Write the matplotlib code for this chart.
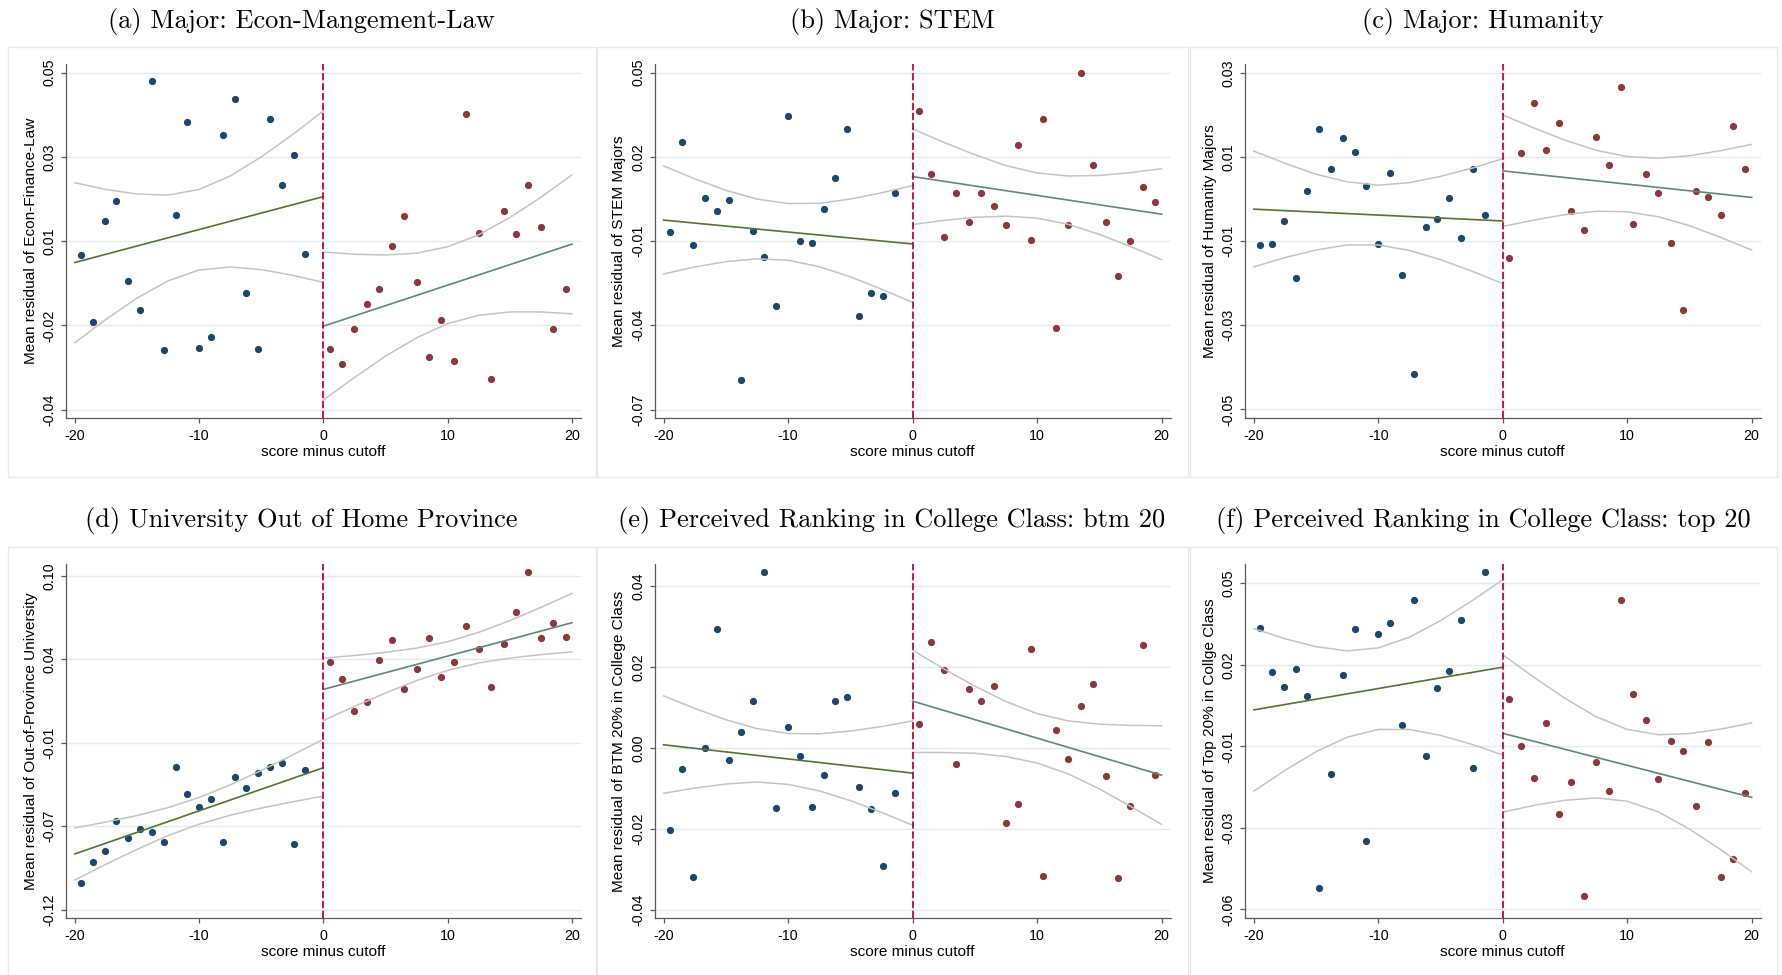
import matplotlib
matplotlib.use('Agg')
import matplotlib.pyplot as plt
from matplotlib.patches import Rectangle

plt.rcParams['font.family'] = ['Liberation Sans', 'DejaVu Sans']
plt.rcParams['axes.unicode_minus'] = False

# bin positions (score minus cutoff)
x_left = [-19.5, -18.55, -17.6, -16.65, -15.7, -14.75, -13.8, -12.85, -11.9, -10.95,
          -10.0, -9.05, -8.1, -7.15, -6.2, -5.25, -4.3, -3.35, -2.4, -1.45]
x_right = [0.5, 1.5, 2.5, 3.5, 4.5, 5.5, 6.5, 7.5, 8.5, 9.5,
           10.5, 11.5, 12.5, 13.5, 14.5, 15.5, 16.5, 17.5, 18.5, 19.5]
fit_x_left = [-20, 0]
fit_x_right = [0, 20]
ci_x_left = [-20, -17.5, -15, -12.5, -10, -7.5, -5, -2.5, 0]
ci_x_right = [0, 2.5, 5, 7.5, 10, 12.5, 15, 17.5, 20]

titles = ['(a) Major: Econ-Mangement-Law', '(b) Major: STEM', '(c) Major: Humanity',
          '(d) University Out of Home Province',
          '(e) Perceived Ranking in College Class: btm 20',
          '(f) Perceived Ranking in College Class: top 20']
ylabels = ['Mean residual of Econ-Finance-Law', 'Mean residual of STEM Majors',
           'Mean residual of Humanity Majors', 'Mean residual of Out-of-Province University',
           'Mean residual of BTM 20% in College Class', 'Mean residual of Top 20% in Collge Class']

# (a) Econ-Management-Law
blue_a = [0.0013, -0.0166, 0.0103, 0.0156, -0.0056, -0.0133, 0.0478, -0.0240, 0.0120, 0.0368,
          -0.0235, -0.0206, 0.0334, 0.0430, -0.0088, -0.0238, 0.0375, 0.0199, 0.0280, 0.0015]
red_a = [-0.0238, -0.0278, -0.0185, -0.0119, -0.0077, 0.0038, 0.0118, -0.0060, -0.0259, -0.0161,
         -0.0270, 0.0390, 0.0073, -0.0317, 0.0130, 0.0068, 0.0199, 0.0088, -0.0185, -0.0077]
fitl_a = [-0.0007, 0.0169]
fitr_a = [-0.0177, 0.0042]
cil_hi_a = [0.0206, 0.0188, 0.0176, 0.0173, 0.0188, 0.0224, 0.0275, 0.0334, 0.0398]
cil_lo_a = [-0.0221, -0.0159, -0.0102, -0.0056, -0.0027, -0.0019, -0.0026, -0.0041, -0.0060]
cir_hi_a = [0.0021, 0.0015, 0.0013, 0.0018, 0.0035, 0.0067, 0.0113, 0.0167, 0.0227]
cir_lo_a = [-0.0374, -0.0314, -0.0257, -0.0208, -0.0170, -0.0148, -0.0139, -0.0139, -0.0144]
yt_a = [0.05, 0.0275, 0.005, -0.0175, -0.04]
ytl_a = ['0.05', '0.03', '0.01', '-0.02', '-0.04']
ylim_a = (-0.0423, 0.0523)

# (b) STEM
blue_b = [-0.0067, 0.0252, -0.0112, 0.0053, 0.0006, 0.0047, -0.0593, -0.0065, -0.0155, -0.0330,
          0.0347, -0.0100, -0.0108, 0.0016, 0.0124, 0.0301, -0.0368, -0.0285, -0.0294, 0.0072]
red_b = [0.0365, 0.0140, -0.0085, 0.0073, -0.0032, 0.0070, 0.0024, -0.0041, 0.0244, -0.0096,
         0.0335, -0.0410, -0.0041, 0.0499, 0.0172, -0.0033, -0.0225, -0.0098, 0.0093, 0.0041]
fitl_b = [-0.0025, -0.0110]
fitr_b = [0.0130, -0.0004]
cil_hi_b = [0.0168, 0.0122, 0.0081, 0.0050, 0.0034, 0.0035, 0.0050, 0.0072, 0.0098]
cil_lo_b = [-0.0217, -0.0192, -0.0173, -0.0163, -0.0168, -0.0191, -0.0227, -0.0271, -0.0318]
cir_hi_b = [0.0300, 0.0252, 0.0208, 0.0169, 0.0143, 0.0132, 0.0134, 0.0144, 0.0158]
cir_lo_b = [-0.0041, -0.0026, -0.0015, -0.0011, -0.0018, -0.0040, -0.0076, -0.0119, -0.0166]
yt_b = [0.05, 0.02, -0.01, -0.04, -0.07]
ytl_b = ['0.05', '0.02', '-0.01', '-0.04', '-0.07']
ylim_b = (-0.0731, 0.0531)

# (c) Humanity
blue_c = [-0.0108, -0.0107, -0.0053, -0.0187, 0.0019, 0.0166, 0.0072, 0.0145, 0.0113, 0.0030,
          -0.0107, 0.0063, -0.0181, -0.0415, -0.0066, -0.0047, 0.0002, -0.0093, 0.0072, -0.0038]
red_c = [-0.0139, 0.0110, 0.0229, 0.0116, 0.0181, -0.0028, -0.0074, 0.0147, 0.0080, 0.0267,
         -0.0059, 0.0059, 0.0014, -0.0104, -0.0263, 0.0018, 0.0004, -0.0038, 0.0173, 0.0071]
fitl_c = [-0.0024, -0.0052]
fitr_c = [0.0067, 0.0004]
cil_hi_c = [0.0114, 0.0085, 0.0059, 0.0041, 0.0033, 0.0039, 0.0054, 0.0073, 0.0096]
cil_lo_c = [-0.0161, -0.0139, -0.0121, -0.0109, -0.0109, -0.0122, -0.0144, -0.0171, -0.0201]
cir_hi_c = [0.0200, 0.0169, 0.0140, 0.0116, 0.0101, 0.0097, 0.0103, 0.0115, 0.0130]
cir_lo_c = [-0.0065, -0.0050, -0.0037, -0.0029, -0.0030, -0.0042, -0.0063, -0.0091, -0.0121]
yt_c = [0.03, 0.01, -0.01, -0.03, -0.05]
ytl_c = ['0.03', '0.01', '-0.01', '-0.03', '-0.05']
ylim_c = (-0.0521, 0.0321)

# (d) out of home province
blue_d = [-0.1022, -0.0884, -0.0811, -0.0616, -0.0726, -0.0667, -0.0686, -0.0754, -0.0263, -0.0436,
          -0.0526, -0.0473, -0.0754, -0.0326, -0.0399, -0.0298, -0.0263, -0.0236, -0.0768, -0.0278]
red_d = [0.0434, 0.0319, 0.0109, 0.0166, 0.0447, 0.0578, 0.0256, 0.0383, 0.0589, 0.0335,
         0.0431, 0.0669, 0.0515, 0.0269, 0.0548, 0.0759, 0.1022, 0.0589, 0.0686, 0.0594]
fitl_d = [-0.0833, -0.0265]
fitr_d = [0.0251, 0.0690]
cil_hi_d = [-0.0662, -0.0623, -0.0580, -0.0528, -0.0461, -0.0378, -0.0283, -0.0182, -0.0077]
cil_lo_d = [-0.1005, -0.0901, -0.0803, -0.0712, -0.0637, -0.0578, -0.0531, -0.0490, -0.0452]
cir_hi_d = [0.0457, 0.0474, 0.0495, 0.0523, 0.0565, 0.0627, 0.0704, 0.0791, 0.0883]
cir_lo_d = [0.0046, 0.0139, 0.0227, 0.0309, 0.0376, 0.0425, 0.0457, 0.0480, 0.0498]
yt_d = [0.10, 0.045, -0.01, -0.065, -0.12]
ytl_d = ['0.10', '0.04', '-0.01', '-0.07', '-0.12']
ylim_d = (-0.1257, 0.1077)

# (e) btm 20
blue_e = [-0.0202, -0.0051, -0.0320, 0.0000, 0.0294, -0.0030, 0.0040, 0.0117, 0.0435, -0.0149,
          0.0052, -0.0020, -0.0145, -0.0066, 0.0117, 0.0125, -0.0096, -0.0150, -0.0292, -0.0111]
red_e = [0.0059, 0.0262, 0.0194, -0.0040, 0.0147, 0.0117, 0.0154, -0.0185, -0.0139, 0.0246,
         -0.0316, 0.0045, -0.0026, 0.0103, 0.0158, -0.0070, -0.0322, -0.0143, 0.0254, -0.0066]
fitl_e = [0.0008, -0.0062]
fitr_e = [0.0116, -0.0067]
cil_hi_e = [0.0129, 0.0098, 0.0070, 0.0048, 0.0036, 0.0035, 0.0042, 0.0053, 0.0067]
cil_lo_e = [-0.0112, -0.0099, -0.0089, -0.0084, -0.0090, -0.0106, -0.0130, -0.0159, -0.0191]
cir_hi_e = [0.0242, 0.0196, 0.0153, 0.0115, 0.0085, 0.0067, 0.0059, 0.0056, 0.0055]
cir_lo_e = [-0.0011, -0.0011, -0.0013, -0.0021, -0.0037, -0.0064, -0.0101, -0.0144, -0.0189]
yt_e = [0.04, 0.02, 0.0, -0.02, -0.04]
ytl_e = ['0.04', '0.02', '0.00', '-0.02', '-0.04']
ylim_e = (-0.0421, 0.0455)

# (f) top 20
blue_f = [0.0350, 0.0201, 0.0150, 0.0212, 0.0120, -0.0529, -0.0142, 0.0191, 0.0345, -0.0369,
          0.0329, 0.0367, 0.0021, 0.0443, -0.0083, 0.0148, 0.0204, 0.0377, -0.0123, 0.0537]
red_f = [0.0110, -0.0048, -0.0156, 0.0029, -0.0277, -0.0171, -0.0554, -0.0102, -0.0202, 0.0444,
         0.0126, 0.0039, -0.0161, -0.0031, -0.0067, -0.0250, -0.0034, -0.0492, -0.0429, -0.0206]
fitl_f = [0.0073, 0.0217]
fitr_f = [-0.0006, -0.0222]
cil_hi_f = [0.0347, 0.0313, 0.0286, 0.0272, 0.0282, 0.0318, 0.0374, 0.0440, 0.0512]
cil_lo_f = [-0.0201, -0.0131, -0.0068, -0.0019, 0.0007, 0.0007, -0.0013, -0.0043, -0.0079]
cir_hi_f = [0.0259, 0.0183, 0.0112, 0.0050, 0.0007, -0.0011, -0.0007, 0.0008, 0.0029]
cir_lo_f = [-0.0272, -0.0249, -0.0232, -0.0224, -0.0235, -0.0271, -0.0329, -0.0398, -0.0473]
yt_f = [0.05, 0.0225, -0.005, -0.0325, -0.06]
ytl_f = ['0.05', '0.02', '-0.01', '-0.03', '-0.06']
ylim_f = (-0.0630, 0.0565)

panels = [
    (blue_a, red_a, fitl_a, fitr_a, cil_hi_a, cil_lo_a, cir_hi_a, cir_lo_a, yt_a, ytl_a, ylim_a),
    (blue_b, red_b, fitl_b, fitr_b, cil_hi_b, cil_lo_b, cir_hi_b, cir_lo_b, yt_b, ytl_b, ylim_b),
    (blue_c, red_c, fitl_c, fitr_c, cil_hi_c, cil_lo_c, cir_hi_c, cir_lo_c, yt_c, ytl_c, ylim_c),
    (blue_d, red_d, fitl_d, fitr_d, cil_hi_d, cil_lo_d, cir_hi_d, cir_lo_d, yt_d, ytl_d, ylim_d),
    (blue_e, red_e, fitl_e, fitr_e, cil_hi_e, cil_lo_e, cir_hi_e, cir_lo_e, yt_e, ytl_e, ylim_e),
    (blue_f, red_f, fitl_f, fitr_f, cil_hi_f, cil_lo_f, cir_hi_f, cir_lo_f, yt_f, ytl_f, ylim_f),
]

# layout in pixels
W, H = 1782, 975
col_left = [65.8, 654.5, 1244.8]
col_width = [515.2, 516.2, 515.9]
row_top = [64.0, 564.0]
ax_h = 354.3
box_x = [(7.5, 595.5), (596.5, 1187.5), (1189.5, 1777.0)]
box_y = [(47.3, 476.5), (547.5, 995.0)]
title_y = [21.5, 521.0]

axis_col = '#5a5a5a'
navy = '#1a476f'
maroon = '#90353b'
ci_col = '#c4c4c4'

fig = plt.figure(figsize=(W / 100, H / 100), dpi=100)
fig.patch.set_facecolor('white')

for i, p in enumerate(panels):
    blue, red, fitl, fitr, cil_hi, cil_lo, cir_hi, cir_lo, yt, ytl, ylim = p
    r, c = divmod(i, 3)

    # graph region border
    bx0, bx1 = box_x[c]
    by0, by1 = box_y[r]
    fig.add_artist(Rectangle((bx0 / W, 1 - by1 / H), (bx1 - bx0) / W, (by1 - by0) / H,
                             transform=fig.transFigure, fill=False, ec='#e3eaed', lw=1.0))
    fig.text((bx0 + bx1) / 2 / W, 1 - title_y[r] / H, titles[i], ha='center', va='center',
             fontsize=19, family=['cmr10', 'DejaVu Serif'])

    ax = fig.add_axes([col_left[c] / W, 1 - (row_top[r] + ax_h) / H, col_width[c] / W, ax_h / H])
    ax.set_xlim(-20.73, 20.73)
    ax.set_ylim(*ylim)
    ax.set_axisbelow(True)
    ax.yaxis.grid(True, color='#e4ebee', lw=1.0)

    ax.scatter(x_left, blue, s=27, color=navy, lw=0, zorder=2)
    ax.scatter(x_right, red, s=27, color=maroon, lw=0, zorder=2)

    ax.plot(ci_x_left, cil_hi, color=ci_col, lw=1.1, zorder=3)
    ax.plot(ci_x_left, cil_lo, color=ci_col, lw=1.1, zorder=3)
    ax.plot(ci_x_right, cir_hi, color=ci_col, lw=1.1, zorder=3)
    ax.plot(ci_x_right, cir_lo, color=ci_col, lw=1.1, zorder=3)
    ax.plot(fit_x_left, fitl, color='#55752f', lw=1.2, zorder=4)
    ax.plot(fit_x_right, fitr, color='#5b8a7b', lw=1.2, zorder=4)

    ax.axvline(0, color='#c10534', lw=1.3, dashes=[4.0, 1.5], zorder=5)

    for s in ['top', 'right']:
        ax.spines[s].set_visible(False)
    for s in ['left', 'bottom']:
        ax.spines[s].set_color(axis_col)
        ax.spines[s].set_linewidth(0.9)

    ax.set_xticks([-20, -10, 0, 10, 20])
    ax.set_yticks(yt)
    ax.set_yticklabels(ytl, rotation=90, va='center')
    ax.tick_params(axis='both', direction='out', length=3.8, width=0.9, color=axis_col,
                   labelsize=10.3)
    ax.tick_params(axis='x', pad=4)
    ax.tick_params(axis='y', pad=3)

    ax.set_xlabel('score minus cutoff', fontsize=11.1)
    ax.xaxis.label.set_va('center')
    ax.xaxis.set_label_coords(0.5, -33.2 / ax_h)
    ax.set_ylabel(ylabels[i], fontsize=11.1)
    ax.yaxis.label.set_va('center')
    ax.yaxis.set_label_coords(-35.0 / col_width[c], 0.5)

fig.savefig('out.png', dpi=100)
